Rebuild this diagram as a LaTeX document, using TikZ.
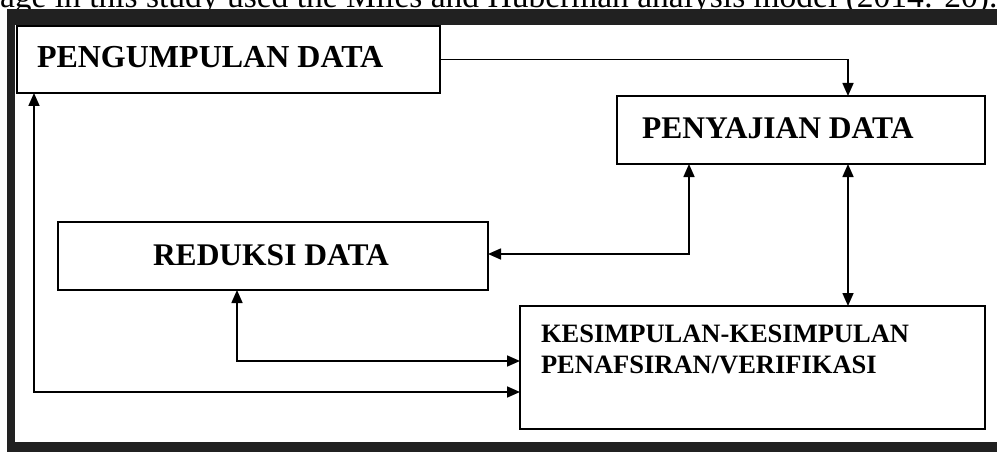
\documentclass[tikz,border=0pt]{standalone}
\usepackage{fontspec}
\setmainfont{Liberation Serif}
\usetikzlibrary{arrows.meta}
\definecolor{framegray}{rgb}{0.13,0.13,0.13}
\tikzset{
  box/.style={draw=black, line width=1.8pt, fill=white, rectangle, inner sep=0pt, outer sep=0pt, anchor=north west},
  lbl/.style={inner sep=0pt, outer sep=0pt, anchor=base west},
  conn/.style={line width=1.6pt, draw=black},
  tip/.tip={Triangle[length=13pt,width=11pt]},
  arr/.style={conn, -tip},
  arrboth/.style={conn, tip-tip},
}
\begin{document}
\begin{tikzpicture}[x=1pt,y=-1pt]
\useasboundingbox (0,0) rectangle (997,452);
\fill[white] (0,0) rectangle (997,452);
% partially visible caption at the top (only its lower part shows)
\begin{scope}
\clip (0,0) rectangle (997,9);
\node[lbl, font=\fontsize{33.5}{40}\selectfont] (caption) at (0,8) {age in this study used the Miles and Huberman analysis model (2014: 20).};
\end{scope}
% dark frame
\fill[framegray] (7,9) rectangle (997,25);
\fill[framegray] (7,9) rectangle (15,452);
\fill[framegray] (7,442) rectangle (997,452);
% boxes
\node[box, minimum width=423pt, minimum height=67pt] (pk) at (17,26) {};
\node[box, minimum width=368pt, minimum height=68pt] (ps) at (617,96) {};
\node[box, minimum width=430pt, minimum height=68pt] (rd) at (58,222) {};
\node[box, minimum width=465pt, minimum height=123pt] (ks) at (520,306) {};
% labels
\node[lbl, font=\bfseries\fontsize{32}{36}\selectfont] (pkt) at (37,68) {PENGUMPULAN DATA};
\node[lbl, font=\bfseries\fontsize{31.5}{36}\selectfont] (pst) at (642,139) {PENYAJIAN DATA};
\node[lbl, font=\bfseries\fontsize{31.5}{36}\selectfont] (rdt) at (153,265) {REDUKSI DATA};
\node[lbl, font=\bfseries\fontsize{26.5}{31}\selectfont] (kst1) at (541,342) {KESIMPULAN-KESIMPULAN};
\node[lbl, font=\bfseries\fontsize{26.5}{31}\selectfont] (kst2) at (541,373) {PENAFSIRAN/VERIFIKASI};
% connectors
\draw[arr] (pk.east) -| ([xshift=47pt]ps.north);
\draw[arrboth] ([xshift=47pt]ps.south) -- ([xshift=47pt]ps.south |- ks.north);
\draw[arrboth] ([xshift=-112pt]ps.south) |- ([yshift=2pt]rd.east);
\draw[arrboth] ([xshift=-36pt]rd.south) |- ([yshift=6.5pt]ks.west);
\draw[arrboth] ([xshift=-194.5pt]pk.south) |- ([yshift=-24.5pt]ks.west);
\end{tikzpicture}
\end{document}
